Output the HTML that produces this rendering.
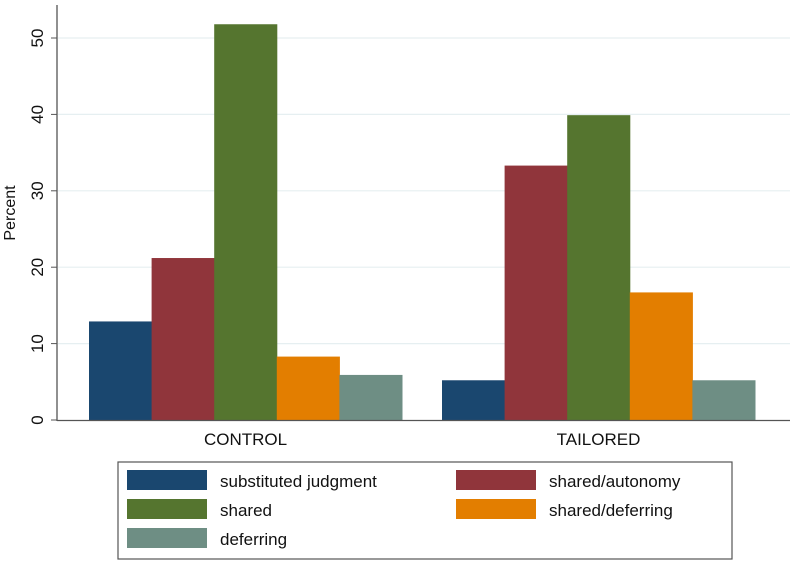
<!DOCTYPE html>
<html><head><meta charset="utf-8"><style>
body{margin:0;background:#fff;font-family:"Liberation Sans",Arial,sans-serif}
svg text{font-family:"Liberation Sans",Arial,sans-serif}
</style></head><body>
<svg width="798" height="564" viewBox="0 0 798 564">
<g id="grid"></g><g id="bars"></g><g id="axes"></g>
<g>
<rect x="118" y="462" width="614" height="97" fill="#fff" stroke="#555" stroke-width="1.2"/>
<g id="legend"></g>
</g>
</svg>
<script>
const categories=["CONTROL","TAILORED"];
const seriesNames=["substituted judgment","shared/autonomy","shared","shared/deferring","deferring"];
const colors=["#1a476f","#90353b","#55752f","#e37e00","#6e8e84"];
const control=[12.9,21.2,51.8,8.3,5.9];
const tailored=[5.2,33.3,39.9,16.7,5.2];
const yTicks=[0,10,20,30,40,50];
const values=[control,tailored];
const NS="http://www.w3.org/2000/svg";
function mk(t,a,p){const e=document.createElementNS(NS,t);for(const k in a)e.setAttribute(k,a[k]);p.appendChild(e);return e;}
const y0=420,pxPer=7.64;
function yS(v){return y0-v*pxPer;}
const groupStart=[89,442],barW=62.6;
function xS(g,i){return groupStart[g]+i*barW;}
const grid=document.getElementById('grid'),bars=document.getElementById('bars'),axes=document.getElementById('axes');
yTicks.forEach(t=>{
 if(t>0){const l=mk('line',{x1:58,x2:790,y1:yS(t),y2:yS(t),stroke:'#e6eff1','stroke-width':1.2},grid);
 
 }
 const tk=mk('line',{x1:51,x2:57,y1:yS(t),y2:yS(t),stroke:'#555'},axes);
 
 
 const tx=mk('text',{x:0,y:0,'font-size':17,fill:'#111','text-anchor':'middle',transform:`translate(43,${yS(t)}) rotate(-90)`},axes);
 tx.textContent=t;
 
 
});
values.forEach((arr,g)=>{arr.forEach((v,i)=>{
 const r=mk('rect',{x:xS(g,i),y:yS(v),width:barW+0.5,height:y0-yS(v),fill:colors[i]},bars);
 
 
});
 const c=mk('text',{x:groupStart[g]+barW*2.5,y:445,'font-size':17,fill:'#111','text-anchor':'middle'},axes);
 c.textContent=categories[g];
 
 
});
const ya=mk('line',{x1:57,x2:57,y1:5,y2:421,stroke:'#555','stroke-width':1.3},axes);


const xa=mk('line',{x1:57,x2:790,y1:420.5,y2:420.5,stroke:'#555','stroke-width':1.3},axes);


const yt=mk('text',{x:0,y:0,'font-size':16,fill:'#111','text-anchor':'middle',transform:'translate(15,213) rotate(-90)'},axes);
yt.textContent='Percent';


const lg=document.getElementById('legend');
const pos=[[127,470],[456,470],[127,499],[456,499],[127,528]];
seriesNames.forEach((n,i)=>{
 const r=mk('rect',{x:pos[i][0],y:pos[i][1],width:80,height:20,fill:colors[i]},lg);
 
 
 const t=mk('text',{x:pos[i][0]+93,y:pos[i][1]+17,'font-size':17,fill:'#111'},lg);
 t.textContent=n;
 
 
});
</script>
</body></html>
